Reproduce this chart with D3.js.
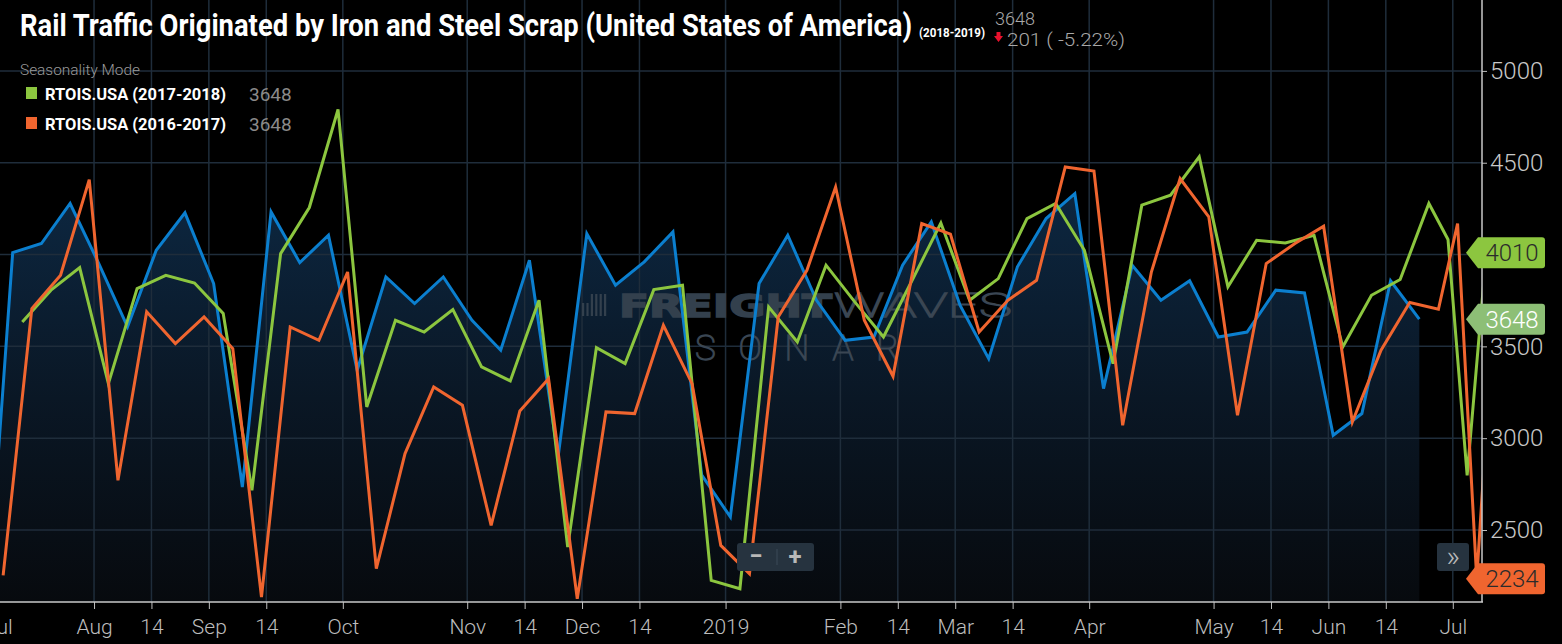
<!DOCTYPE html>
<html>
<head>
<meta charset="utf-8">
<script src="https://cdnjs.cloudflare.com/ajax/libs/d3/7.8.5/d3.min.js"></script>
<style>
body {margin:0; background:#000; overflow:hidden;}
svg {display:block;}
</style>
</head>
<body>
<div id="chart"></div>
<script>
// weekly carloads, one array per season (week 0 = first week of Jul)
var weeks2018 = d3.range(-1, 50);
var rtois2018 = [2555, 4011, 4060, 4278, 3951, 3606, 4023, 4227, 3842, 2734,
                 4232, 3956, 4105, 3370, 3878, 3733, 3878, 3642, 3479, 3969,
                 2898, 4114, 3833, 3960, 4123, 2800, 2571, 3842, 4105, 3751,
                 3533, 3551, 3942, 4178, 3724, 3433, 3933, 4196, 4332, 3270,
                 3942, 3751, 3857, 3551, 3578, 3806, 3791, 3016, 3134, 3857,
                 3648];

var weeks2017 = d3.range(0, 53);
var rtois2017 = [3633, 3806, 3929, 3297, 3815, 3887, 3845, 3679, 2716, 4005,
                 4256, 4790, 3170, 3642, 3578, 3700, 3388, 3312, 3751, 2407,
                 3493, 3406, 3809, 3833, 2226, 2180, 3715, 3524, 3942, 3742,
                 3551, 3860, 4172, 3751, 3869, 4196, 4278, 4023, 3406, 4269,
                 4323, 4532, 3824, 4078, 4063, 4105, 3497, 3778, 3864, 4278,
                 4082, 2798, 4010];

var weeks2016 = d3.range(-1, 53);
var rtois2016 = [2253, 3706, 3887, 4408, 2771, 3688, 3515, 3660, 3488, 2135,
                 3606, 3533, 3905, 2290, 2916, 3279, 3179, 2525, 3148, 3324,
                 2126, 3143, 3134, 3615, 3297, 2416, 2262, 3660, 3914, 4368,
                 3642, 3337, 4169, 4111, 3578, 3751, 3860, 4477, 4455, 3070,
                 3905, 4414, 4205, 3125, 3951, 4060, 4154, 3088, 3479, 3739,
                 3702, 4169, 2234, 3850];

var yTicks = [2500, 3000, 3500, 4000, 4500, 5000];

// tick positions on the ordinal axis (in point slots) and their labels
var tickSlots = [-1.5, 8.5, 14.5, 20.5, 26.5, 34.5, 47.5, 53.5, 59.5, 65.5, 74.5,
                 86.5, 92.5, 98.5, 104.5, 112.5, 125.5, 131.5, 137.5, 143.5, 150.5];
var tickLabels = ["Jul", "Aug", "14", "Sep", "14", "Oct", "Nov", "14", "Dec", "14", "2019",
                  "Feb", "14", "Mar", "14", "Apr", "May", "14", "Jun", "14", "Jul"];

var tagValues = [4010, 3648, 2234];
var tagColors = ["#8cc63f", "#8dbf76", "#f0652f"];
var tagText = ["#2b2b2b", "#ffffff", "#2b2b2b"];

var series = [
    {weeks: weeks2018, values: rtois2018, shift: 0, color: "#0b7fcf"},
    {weeks: weeks2017, values: rtois2017, shift: 1/3, color: "#8cc63f"},
    {weeks: weeks2016, values: rtois2016, shift: 2/3, color: "#f0652f"}
];

var screen = {width: 1562, height: 644};
var plot = {left: 0, right: 1482, top: 0, bottom: 602};

// ordinal axis: every point of every series gets its own evenly spaced slot
var keys = [];
series.forEach(function(s) {
    s.weeks.forEach(function(w) { keys.push(+(w + s.shift).toFixed(3)); });
});
keys = Array.from(new Set(keys)).sort(d3.ascending);
var origin = keys.indexOf(0);
var slot = function(k) { return d3.bisectLeft(keys, k - 0.001) - origin; };

var xScale = d3.scaleLinear()
    .domain([slot(0), slot(49)])
    .range([12.7, 1419.3]);

var yScale = d3.scaleLinear()
    .domain([2500, 5000])
    .range([530, 70.9]);

var svg = d3.select("#chart")
    .append("svg")
    .attr("width", screen.width)
    .attr("height", screen.height)
    .style("font-family", "Roboto, 'Open Sans', sans-serif");

svg.append("rect")
    .attr("width", screen.width)
    .attr("height", screen.height)
    .attr("fill", "#000");

var defs = svg.append("defs");
defs.append("clipPath").attr("id", "plotclip")
    .append("rect")
    .attr("x", plot.left).attr("y", plot.top)
    .attr("width", plot.right - plot.left)
    .attr("height", plot.bottom - plot.top);

var grad = defs.append("linearGradient")
    .attr("id", "areafill")
    .attr("gradientUnits", "userSpaceOnUse")
    .attr("x1", 0).attr("y1", 150).attr("x2", 0).attr("y2", plot.bottom);
grad.append("stop").attr("offset", "0%").attr("stop-color", "#0d2a46");
grad.append("stop").attr("offset", "55%").attr("stop-color", "#0a1725");
grad.append("stop").attr("offset", "100%").attr("stop-color", "#070a0e");

var toPoints = function(s) {
    return s.weeks.map(function(w, i) {
        return {x: slot(w + s.shift), v: s.values[i]};
    });
};

var g = svg.append("g").attr("clip-path", "url(#plotclip)");

//area under the current season
var area = d3.area()
    .x(function(d) { return xScale(d.x); })
    .y0(plot.bottom)
    .y1(function(d) { return yScale(d.v); });

g.append("path")
    .datum(toPoints(series[0]))
    .attr("d", area)
    .attr("fill", "url(#areafill)");

//grid
g.selectAll(".hgrid")
    .data(yTicks)
    .enter()
    .append("line")
    .attr("x1", plot.left).attr("x2", plot.right)
    .attr("y1", function(d) { return yScale(d); })
    .attr("y2", function(d) { return yScale(d); })
    .attr("stroke", "#1f2d3b")
    .attr("stroke-width", 1.5);

g.selectAll(".vgrid")
    .data(tickSlots)
    .enter()
    .append("line")
    .attr("x1", function(d) { return xScale(d); })
    .attr("x2", function(d) { return xScale(d); })
    .attr("y1", plot.top).attr("y2", plot.bottom)
    .attr("stroke", "#1f2d3b")
    .attr("stroke-width", 1.5);

//watermark
var wm = g.append("g");
wm.selectAll(".bar")
    .data([0, 1, 2, 3, 4, 5])
    .enter()
    .append("rect")
    .attr("x", function(d) { return 582 + d * 4.4; })
    .attr("y", function(d) { return d < 2 ? 303 : 294; })
    .attr("width", 2.2)
    .attr("height", function(d) { return d < 2 ? 13 : 22; })
    .attr("fill", "#33404d");
wm.append("text")
    .attr("x", 619).attr("y", 317)
    .attr("textLength", 213).attr("lengthAdjust", "spacingAndGlyphs")
    .style("font-family", "'DejaVu Sans', sans-serif")
    .style("font-weight", "900").style("font-size", "32px")
    .attr("fill", "#33404d").attr("stroke", "#33404d").attr("stroke-width", 1.5)
    .text("FREIGHT");
wm.append("text")
    .attr("x", 834).attr("y", 317)
    .attr("textLength", 178).attr("lengthAdjust", "spacingAndGlyphs")
    .style("font-weight", "100").style("font-size", "33px")
    .attr("fill", "none").attr("stroke", "#3a4653").attr("stroke-width", 1.3)
    .text("WAVES");
wm.append("text")
    .attr("x", 695).attr("y", 360)
    .attr("textLength", 204).attr("lengthAdjust", "spacing")
    .style("font-weight", "100").style("font-size", "35px")
    .attr("fill", "none").attr("stroke", "#3a4653").attr("stroke-width", 1.3)
    .text("SONAR");

//series lines
var line = d3.line()
    .x(function(d) { return xScale(d.x); })
    .y(function(d) { return yScale(d.v); });

series.forEach(function(s) {
    g.append("path")
        .datum(toPoints(s))
        .attr("d", line)
        .attr("fill", "none")
        .attr("stroke", s.color)
        .attr("stroke-width", 3);
});

//axes
var xAxis = d3.axisBottom(xScale)
    .tickValues(tickSlots)
    .tickFormat(function(d, i) { return tickLabels[i]; })
    .tickSize(7)
    .tickPadding(10);

var xg = svg.append("g")
    .attr("transform", "translate(0," + plot.bottom + ")")
    .call(xAxis);
xg.select(".domain").remove();
xg.selectAll("line").attr("stroke", "#bfbfbf");
xg.selectAll("text")
    .attr("fill", "#bdbdbd")
    .style("font-size", "21px")
    .style("font-weight", "300")
    .style("font-family", "Roboto, sans-serif");

var yAxis = d3.axisRight(yScale)
    .tickValues(yTicks)
    .tickFormat(d3.format("d"))
    .tickSize(5)
    .tickPadding(3);

var yg = svg.append("g")
    .attr("transform", "translate(" + plot.right + ",0)")
    .call(yAxis);
yg.select(".domain").remove();
yg.selectAll("line").attr("stroke", "#bfbfbf");
yg.selectAll("text")
    .attr("fill", "#c8c8c8")
    .style("font-size", "24px")
    .style("font-weight", "300")
    .style("font-family", "Roboto, sans-serif");

svg.append("line")
    .attr("x1", plot.left).attr("x2", plot.right + 1)
    .attr("y1", plot.bottom).attr("y2", plot.bottom)
    .attr("stroke", "#c8c8c8").attr("stroke-width", 1.5);
svg.append("line")
    .attr("x1", plot.right).attr("x2", plot.right)
    .attr("y1", plot.top).attr("y2", plot.bottom)
    .attr("stroke", "#c8c8c8").attr("stroke-width", 1.5);

//last value flags on the right
var tags = svg.selectAll(".tag")
    .data(tagValues)
    .enter()
    .append("g")
    .attr("transform", function(d) { return "translate(0," + yScale(d) + ")"; });
tags.append("path")
    .attr("d", "M1466,0 L1478,-15.5 L1542,-15.5 Q1545,-15.5 1545,-12.5 L1545,12.5 Q1545,15.5 1542,15.5 L1478,15.5 Z")
    .attr("fill", function(d, i) { return tagColors[i]; });
tags.append("text")
    .attr("x", 1512).attr("dy", "0.35em")
    .attr("text-anchor", "middle")
    .style("font-size", "24px")
    .style("font-weight", "300")
    .attr("fill", function(d, i) { return tagText[i]; })
    .text(function(d) { return d; });

//title
var title = svg.append("g");
title.append("text")
    .attr("x", 20).attr("y", 36)
    .attr("textLength", 892).attr("lengthAdjust", "spacingAndGlyphs")
    .style("font-size", "32px").style("font-weight", "bold")
    .attr("fill", "#ffffff")
    .text("Rail Traffic Originated by Iron and Steel Scrap (United States of America)");
title.append("text")
    .attr("x", 919).attr("y", 37)
    .attr("textLength", 66).attr("lengthAdjust", "spacingAndGlyphs")
    .style("font-size", "12px").style("font-weight", "bold")
    .attr("fill", "#ffffff")
    .text("(2018-2019)");
title.append("text")
    .attr("x", 995).attr("y", 25)
    .style("font-size", "18px").style("font-weight", "300")
    .attr("fill", "#a8a8a8")
    .text("3648");
title.append("path")
    .attr("d", "M996.5,32 L1000.5,32 L1000.5,36 L1003,36 L998.5,42 L994,36 L996.5,36 Z")
    .attr("fill", "#e8112d");
title.append("text")
    .attr("x", 1007).attr("y", 46)
    .attr("textLength", 118).attr("lengthAdjust", "spacingAndGlyphs")
    .style("font-size", "19px").style("font-weight", "300")
    .attr("fill", "#a8a8a8")
    .text("201 ( -5.22%)");

//legend
var legend = svg.append("g");
legend.append("text")
    .attr("x", 20).attr("y", 75)
    .attr("textLength", 120).attr("lengthAdjust", "spacingAndGlyphs")
    .style("font-size", "14px").style("font-weight", "300")
    .attr("fill", "#9a9a9a")
    .text("Seasonality Mode");

var legendItems = [
    {label: "RTOIS.USA (2017-2018)", color: series[1].color, value: 3648},
    {label: "RTOIS.USA (2016-2017)", color: series[2].color, value: 3648}
];
var items = legend.selectAll(".item")
    .data(legendItems)
    .enter()
    .append("g")
    .attr("transform", function(d, i) { return "translate(0," + (i * 30) + ")"; });
items.append("rect")
    .attr("x", 26).attr("y", 87)
    .attr("width", 11).attr("height", 12)
    .attr("fill", function(d) { return d.color; });
items.append("text")
    .attr("x", 45).attr("y", 100)
    .attr("textLength", 181).attr("lengthAdjust", "spacingAndGlyphs")
    .style("font-size", "16px").style("font-weight", "bold")
    .attr("fill", "#ffffff")
    .text(function(d) { return d.label; });
items.append("text")
    .attr("x", 249).attr("y", 101)
    .style("font-size", "19px").style("font-weight", "400")
    .attr("fill", "#8a8a8a")
    .text(function(d) { return d.value; });

//zoom buttons
var btn = svg.append("g");
btn.append("rect")
    .attr("x", 737).attr("y", 543).attr("width", 77).attr("height", 28)
    .attr("rx", 3).attr("fill", "#26333f");
btn.append("line")
    .attr("x1", 777).attr("x2", 777).attr("y1", 549).attr("y2", 565)
    .attr("stroke", "#3b4a58");
btn.append("text")
    .attr("x", 756).attr("y", 564).attr("text-anchor", "middle")
    .style("font-size", "24px").style("font-weight", "bold")
    .attr("fill", "#b8b8b8").text("\u2212");
btn.append("text")
    .attr("x", 795).attr("y", 565).attr("text-anchor", "middle")
    .style("font-size", "24px").style("font-weight", "bold")
    .attr("fill", "#b8b8b8").text("+");
btn.append("rect")
    .attr("x", 1437).attr("y", 543).attr("width", 32).attr("height", 28)
    .attr("rx", 3).attr("fill", "#26333f");
btn.append("text")
    .attr("x", 1453).attr("y", 566).attr("text-anchor", "middle")
    .style("font-size", "30px").style("font-weight", "300")
    .attr("fill", "#b8b8b8").text("\u00bb");
</script>
</body>
</html>
